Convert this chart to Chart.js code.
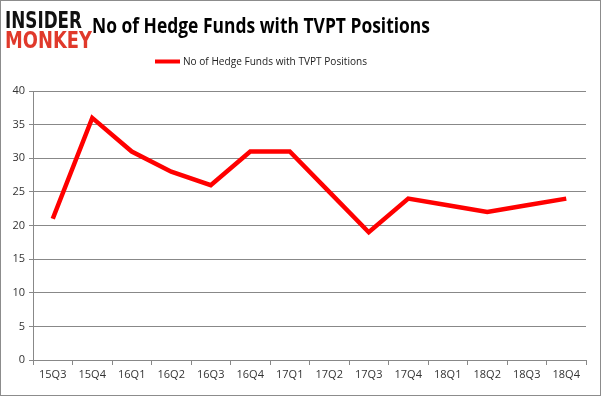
<!DOCTYPE html>
<html>
<head>
<meta charset="utf-8">
<script src="https://cdn.jsdelivr.net/npm/chart.js@4/dist/chart.umd.min.js"></script>
<style>
  html, body { margin: 0; padding: 0; background: #fff; }
  #wrap { width: 601px; height: 396px; position: relative; }
</style>
</head>
<body>
<div id="wrap"><canvas id="chart" width="601" height="396"></canvas></div>
<script>
'use strict';
// chart data
var quarters = ['15Q3','15Q4','16Q1','16Q2','16Q3','16Q4','17Q1','17Q2','17Q3','17Q4','18Q1','18Q2','18Q3','18Q4'];
var fundCounts = [21, 36, 31, 28, 26, 31, 31, 25, 19, 24, 23, 22, 23, 24];
var seriesName = 'No of Hedge Funds with TVPT Positions';
var chartTitle = 'No of Hedge Funds with TVPT Positions';

// draws frame, logo, title and legend by hand (Excel-like placement)
var decorations = {
  id: 'decorations',
  afterDraw: function(chart) {
    var ctx = chart.ctx;
    ctx.save();
    // outer border
    ctx.strokeStyle = '#8c8c8c';
    ctx.lineWidth = 1;
    ctx.strokeRect(0.5, 0.5, 600, 395);

    // logo
    ctx.textBaseline = 'alphabetic';
    ctx.textAlign = 'left';
    drawFitted(ctx, 'INSIDER', 'bold 21px "DejaVu Sans"', '#111111', 5, 28, 77, 1.1);
    drawFitted(ctx, 'MONKEY', 'bold 21px "DejaVu Sans"', '#e0392b', 5, 48, 87, 1.1);

    // title
    drawFitted(ctx, chartTitle, 'bold 21px "Open Sans"', '#000000', 92, 33, 338, 1);

    // legend
    ctx.strokeStyle = '#ff0000';
    ctx.lineWidth = 4;
    ctx.beginPath();
    ctx.moveTo(155, 61.5);
    ctx.lineTo(180, 61.5);
    ctx.stroke();
    ctx.textBaseline = 'middle';
    drawFitted(ctx, seriesName, '11.5px "Open Sans"', '#222222', 183, 62, 184, 1);
    ctx.restore();
  }
};

function drawFitted(ctx, text, font, color, x, y, width, yScale) {
  ctx.font = font;
  var w = ctx.measureText(text).width;
  ctx.save();
  ctx.translate(x, y);
  ctx.scale(width / w, yScale);
  ctx.fillStyle = color;
  ctx.fillText(text, 0, 0);
  ctx.restore();
}

var ctx = document.getElementById('chart').getContext('2d');
var chart = new Chart(ctx, {
  type: 'line',
  data: {
    labels: quarters,
    datasets: [{
      label: seriesName,
      data: fundCounts,
      borderColor: '#ff0000',
      backgroundColor: '#ff0000',
      borderWidth: 4.5,
      pointRadius: 0,
      tension: 0,
      fill: false
    }]
  },
  options: {
    responsive: false,
    animation: false,
    layout: { padding: { top: 91, right: 15, left: 0, bottom: 0 } },
    plugins: {
      legend: { display: false },
      title: { display: false },
      tooltip: { enabled: false }
    },
    scales: {
      x: {
        offset: true,
        afterFit: function(scale) { scale.height = 36; },
        grid: {
          offset: true,
          drawOnChartArea: false,
          drawTicks: true,
          tickLength: 5,
          color: '#888888'
        },
        border: { color: '#888888' },
        ticks: {
          color: '#333333',
          font: { family: '"Open Sans"', size: 11 },
          maxRotation: 0,
          autoSkip: false,
          padding: 3
        }
      },
      y: {
        min: 0,
        max: 40,
        afterFit: function(scale) { scale.width = 33; },
        grid: {
          color: '#888888',
          drawTicks: true,
          tickLength: 4
        },
        border: { color: '#888888' },
        ticks: {
          stepSize: 5,
          color: '#333333',
          font: { family: '"Open Sans"', size: 11 },
          padding: 4
        }
      }
    }
  },
  plugins: [decorations]
});
</script>
</body>
</html>
